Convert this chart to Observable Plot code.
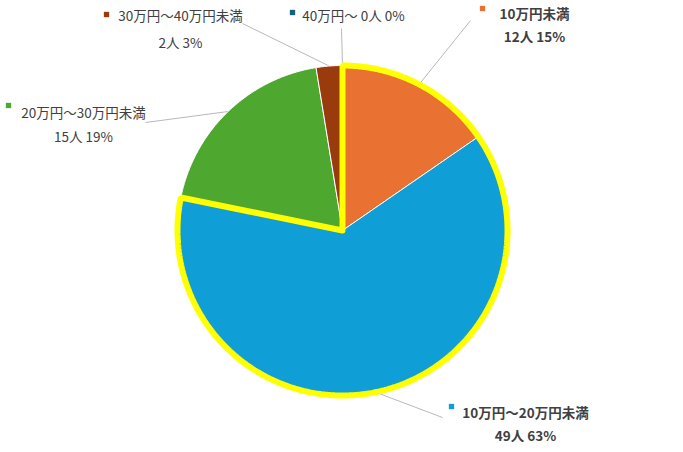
<!DOCTYPE html>
<html>
<head>
<meta charset="utf-8">
<script src="https://cdn.jsdelivr.net/npm/d3@7"></script>
<script src="https://cdn.jsdelivr.net/npm/@observablehq/plot@0.6"></script>
<style>
  html, body { margin: 0; padding: 0; background: #fff; }
  svg { display: block; }
</style>
</head>
<body>
<div id="chart"></div>
<script>
// ---- data ----
const categories = ["10万円未満", "10万円〜20万円未満", "20万円〜30万円未満", "30万円〜40万円未満", "40万円〜"];
const counts = [12, 49, 15, 2, 0];
const percents = ["15%", "63%", "19%", "3%", "0%"];
const colors = ["#E97132", "#0F9ED5", "#4EA72E", "#9A3B0E", "#156082"];
const highlighted = [true, true, false, false, false];

// ---- layout (pixels) ----
const W = 683, H = 452;
const cx = 342, cy = 230, R = 165;
// label block: [text center x, line1 y, line2 y, marker x, marker y, leader end x, leader end y]
const labelLayout = [
  [534, 14, 37, 482, 8, 470, 20],
  [525, 413, 436, 451, 406, 442, 417],
  [83, 113, 137, 8, 105, 145, 122],
  [180, 16, 43, 106, 14, 242, 23],
  [353, 16, null, 292, 12, 341, 28]
];

const total = d3.sum(counts);
let acc = 0;
const slices = counts.map((c, i) => {
  const a0 = acc / total * 2 * Math.PI;
  acc += c;
  const a1 = acc / total * 2 * Math.PI;
  return {i, a0, a1, mid: (a0 + a1) / 2};
});
const pt = (a, r = R) => [cx + r * Math.sin(a), cy - r * Math.cos(a)];
function wedge(a0, a1, key, color) {
  const pts = [{key, color, x: cx, y: cy}];
  const n = Math.max(2, Math.ceil((a1 - a0) / (Math.PI / 360)));
  for (let k = 0; k <= n; k++) {
    const [x, y] = pt(a0 + (a1 - a0) * k / n);
    pts.push({key, color, x, y});
  }
  pts.push({key, color, x: cx, y: cy});
  return pts;
}
const wedgePts = slices.filter(s => counts[s.i] > 0).flatMap(s => wedge(s.a0, s.a1, s.i, colors[s.i]));
const hiStart = d3.min(slices.filter(s => highlighted[s.i]), s => s.a0);
const hiEnd = d3.max(slices.filter(s => highlighted[s.i]), s => s.a1);
const hiPts = wedge(hiStart, hiEnd, "hi", "#FFFF00");

const leaders = slices.map(s => {
  const [x1, y1] = pt(s.mid);
  const L = labelLayout[s.i];
  return {x1, y1, x2: L[5], y2: L[6]};
});
const line1 = slices.map(s => {
  const L = labelLayout[s.i];
  const text = L[2] == null ? `${categories[s.i]} ${counts[s.i]}人 ${percents[s.i]}` : categories[s.i];
  return {x: L[0], y: L[1], text, bold: highlighted[s.i]};
});
const line2 = slices.filter(s => labelLayout[s.i][2] != null).map(s => {
  const L = labelLayout[s.i];
  return {x: L[0], y: L[2], text: `${counts[s.i]}人 ${percents[s.i]}`, bold: highlighted[s.i]};
});
const labels = line1.concat(line2);
const markers = slices.map(s => ({x: labelLayout[s.i][3], y: labelLayout[s.i][4], color: colors[s.i]}));

const font = "'Noto Sans CJK JP', 'Noto Sans', sans-serif";
const chart = Plot.plot({
  width: W,
  height: H,
  margin: 0,
  x: {domain: [0, W], range: [0, W], axis: null},
  y: {domain: [0, H], range: [0, H], axis: null},
  style: {background: "#fff", fontFamily: font},
  marks: [
    Plot.link(leaders, {x1: "x1", y1: "y1", x2: "x2", y2: "y2", stroke: "#a6a6a6", strokeWidth: 0.8}),
    Plot.line(wedgePts, {x: "x", y: "y", z: "key", fill: "color", stroke: "#fff", strokeWidth: 1, strokeLinejoin: "round"}),
    Plot.line(hiPts, {x: "x", y: "y", stroke: "#FFFF00", strokeWidth: 6, strokeLinejoin: "miter", fill: "none"}),
    Plot.dot(markers, {x: "x", y: "y", fill: "color", symbol: "square", r: 3}),
    Plot.text(labels.filter(d => !d.bold), {x: "x", y: "y", text: "text", fill: "#404040", fontSize: 13.5, textAnchor: "middle", fontFamily: font}),
    Plot.text(labels.filter(d => d.bold), {x: "x", y: "y", text: "text", fill: "#404040", fontSize: 13.5, fontWeight: "bold", textAnchor: "middle", fontFamily: font})
  ]
});
document.getElementById("chart").appendChild(chart);
</script>
</body>
</html>
